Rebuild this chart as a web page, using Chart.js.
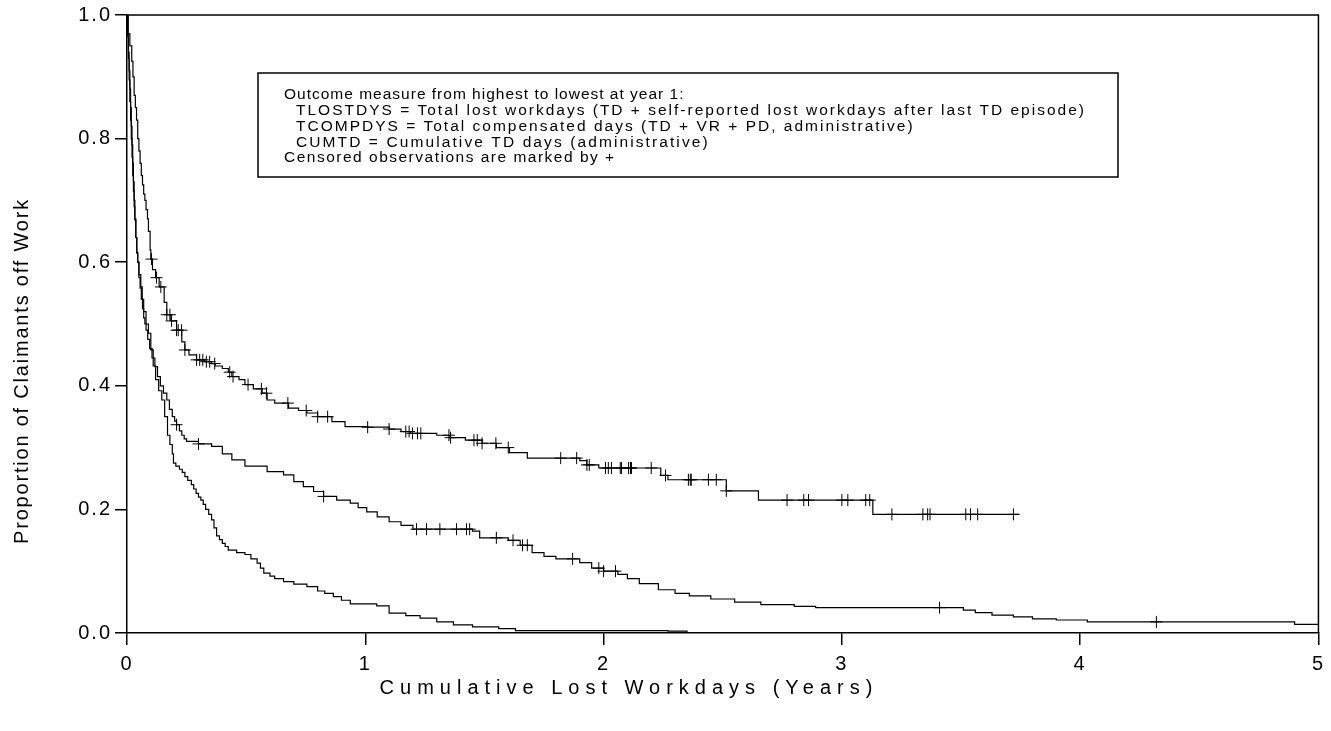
<!DOCTYPE html>
<html>
<head>
<meta charset="utf-8">
<script src="https://cdn.jsdelivr.net/npm/chart.js@4.4.1/dist/chart.umd.min.js"></script>
<style>
  body { margin: 0; background: #fff; }
  #wrap { width: 1331px; height: 731px; }
</style>
</head>
<body>
<div id="wrap"><canvas id="kmChart" width="1331" height="731"></canvas></div>
<script>
// time in years / proportion still off work (step curves)
const tlostT = [0, 0.005, 0.012, 0.02, 0.025, 0.03, 0.035, 0.04, 0.045, 0.05, 0.055, 0.06, 0.065, 0.07, 0.075, 0.08, 0.086, 0.09, 0.097, 0.10, 0.107, 0.12, 0.135, 0.156, 0.167, 0.184, 0.208, 0.23, 0.243, 0.26, 0.292, 0.327, 0.355, 0.37, 0.40, 0.425, 0.44, 0.47, 0.495, 0.53, 0.567, 0.588, 0.62, 0.678, 0.72, 0.755, 0.80, 0.86, 0.915, 1.01, 1.10, 1.15, 1.19, 1.30, 1.355, 1.42, 1.49, 1.55, 1.605, 1.68, 1.90, 1.93, 1.98, 2.24, 2.27, 2.515, 2.65, 3.13, 3.745];
const tlostS = [1.0, 0.97, 0.95, 0.925, 0.90, 0.87, 0.85, 0.83, 0.80, 0.78, 0.76, 0.74, 0.725, 0.71, 0.70, 0.685, 0.67, 0.65, 0.62, 0.605, 0.588, 0.575, 0.56, 0.535, 0.515, 0.505, 0.49, 0.471, 0.458, 0.45, 0.442, 0.439, 0.436, 0.432, 0.428, 0.422, 0.415, 0.41, 0.402, 0.395, 0.388, 0.377, 0.372, 0.364, 0.36, 0.356, 0.35, 0.342, 0.334, 0.333, 0.33, 0.326, 0.323, 0.32, 0.316, 0.312, 0.307, 0.30, 0.292, 0.283, 0.279, 0.272, 0.267, 0.255, 0.248, 0.23, 0.215, 0.192, 0.192];
const tlostCens = [0.103, 0.124, 0.142, 0.167, 0.18, 0.187, 0.208, 0.215, 0.229, 0.243, 0.292, 0.305, 0.318, 0.333, 0.347, 0.368, 0.431, 0.445, 0.508, 0.564, 0.585, 0.675, 0.752, 0.80, 0.842, 1.01, 1.10, 1.17, 1.184, 1.198, 1.219, 1.233, 1.351, 1.358, 1.456, 1.47, 1.49, 1.548, 1.60, 1.82, 1.887, 1.93, 1.94, 2.008, 2.02, 2.033, 2.07, 2.075, 2.105, 2.113, 2.117, 2.20, 2.26, 2.356, 2.364, 2.368, 2.44, 2.473, 2.515, 2.77, 2.84, 2.86, 3.0, 3.025, 3.10, 3.117, 3.21, 3.34, 3.36, 3.37, 3.52, 3.54, 3.57, 3.72];

const tcompT = [0, 0.003, 0.006, 0.009, 0.012, 0.015, 0.018, 0.021, 0.024, 0.027, 0.03, 0.033, 0.037, 0.041, 0.045, 0.05, 0.055, 0.06, 0.065, 0.07, 0.075, 0.08, 0.087, 0.095, 0.105, 0.117, 0.128, 0.14, 0.153, 0.167, 0.178, 0.19, 0.2, 0.208, 0.22, 0.23, 0.24, 0.25, 0.30, 0.355, 0.40, 0.44, 0.495, 0.588, 0.657, 0.70, 0.74, 0.783, 0.825, 0.88, 0.937, 0.97, 1.006, 1.05, 1.10, 1.15, 1.20, 1.45, 1.48, 1.60, 1.65, 1.70, 1.75, 1.80, 1.90, 1.95, 2.00, 2.06, 2.10, 2.15, 2.23, 2.30, 2.36, 2.45, 2.55, 2.66, 2.80, 2.89, 3.51, 3.56, 3.63, 3.72, 3.80, 3.90, 4.03, 4.90, 5.0];
const tcompS = [1.0, 0.97, 0.94, 0.91, 0.88, 0.85, 0.82, 0.79, 0.76, 0.73, 0.70, 0.67, 0.64, 0.615, 0.60, 0.575, 0.558, 0.54, 0.525, 0.51, 0.50, 0.49, 0.475, 0.46, 0.445, 0.431, 0.415, 0.40, 0.388, 0.377, 0.362, 0.35, 0.343, 0.337, 0.327, 0.32, 0.314, 0.31, 0.306, 0.302, 0.29, 0.28, 0.27, 0.261, 0.256, 0.245, 0.237, 0.229, 0.221, 0.215, 0.21, 0.203, 0.196, 0.188, 0.18, 0.174, 0.168, 0.165, 0.154, 0.15, 0.142, 0.13, 0.124, 0.12, 0.114, 0.105, 0.10, 0.095, 0.088, 0.08, 0.07, 0.064, 0.06, 0.055, 0.05, 0.046, 0.043, 0.041, 0.037, 0.033, 0.029, 0.026, 0.023, 0.021, 0.018, 0.014, 0.014];
const tcompCens = [0.208, 0.30, 0.825, 1.215, 1.257, 1.313, 1.383, 1.425, 1.438, 1.55, 1.62, 1.66, 1.68, 1.87, 1.98, 2.0, 2.05, 3.41, 4.32];

const cumtdT = [0, 0.003, 0.006, 0.009, 0.012, 0.015, 0.018, 0.021, 0.024, 0.027, 0.03, 0.033, 0.037, 0.041, 0.045, 0.05, 0.058, 0.064, 0.07, 0.08, 0.09, 0.10, 0.11, 0.12, 0.133, 0.146, 0.158, 0.17, 0.18, 0.19, 0.195, 0.205, 0.22, 0.232, 0.243, 0.255, 0.27, 0.28, 0.29, 0.30, 0.31, 0.32, 0.33, 0.343, 0.355, 0.365, 0.376, 0.388, 0.40, 0.412, 0.425, 0.46, 0.495, 0.52, 0.546, 0.56, 0.574, 0.60, 0.62, 0.657, 0.70, 0.755, 0.80, 0.83, 0.866, 0.90, 0.937, 1.048, 1.10, 1.17, 1.23, 1.30, 1.37, 1.45, 1.56, 1.63, 2.27, 2.35];
const cumtdS = [1.0, 0.965, 0.93, 0.895, 0.86, 0.83, 0.80, 0.77, 0.74, 0.715, 0.69, 0.668, 0.64, 0.615, 0.60, 0.58, 0.56, 0.54, 0.52, 0.50, 0.485, 0.458, 0.432, 0.41, 0.392, 0.377, 0.35, 0.32, 0.305, 0.29, 0.275, 0.27, 0.265, 0.26, 0.253, 0.247, 0.24, 0.233, 0.226, 0.22, 0.215, 0.208, 0.20, 0.192, 0.183, 0.17, 0.157, 0.151, 0.145, 0.14, 0.134, 0.13, 0.127, 0.12, 0.113, 0.105, 0.097, 0.092, 0.088, 0.083, 0.079, 0.075, 0.068, 0.064, 0.059, 0.053, 0.047, 0.044, 0.032, 0.028, 0.024, 0.018, 0.013, 0.01, 0.007, 0.004, 0.003, 0.0];

const xTicks = [0, 1, 2, 3, 4, 5];
const yTicks = [0, 0.2, 0.4, 0.6, 0.8, 1.0];

const xTitle = "Cumulative Lost Workdays (Years)";
const yTitle = "Proportion of Claimants off Work";
const boxLines = [
    "Outcome measure from highest to lowest at year 1:",
    "  TLOSTDYS = Total lost workdays (TD + self-reported lost workdays after last TD episode)",
    "  TCOMPDYS = Total compensated days (TD + VR + PD, administrative)",
    "  CUMTD = Cumulative TD days (administrative)",
    "Censored observations are marked by +"
];

const FONT = "Arial, 'Liberation Sans', sans-serif";
// per-line letter spacing for the note box (px)
const boxSpacing = [1.0, 2.0, 2.0, 2.1, 1.5];

function toPoints(ts, ss) {
    return ts.map((t, i) => ({ x: t, y: ss[i] }));
}

// value of the step curve at time t
function survAt(ts, ss, t) {
    let v = ss[0];
    for (let i = 0; i < ts.length; i++) {
        if (ts[i] <= t) v = ss[i];
    }
    return v;
}

function censPoints(ts, ss, cens) {
    return cens.map(t => ({ x: t, y: survAt(ts, ss, t) }));
}

function curve(label, ts, ss) {
    return {
        label,
        data: toPoints(ts, ss),
        borderColor: "#000",
        borderWidth: 1.2,
        stepped: true,
        pointRadius: 0,
        fill: false
    };
}

function marks(label, ts, ss, cens) {
    return {
        label,
        data: censPoints(ts, ss, cens),
        showLine: false,
        pointStyle: "cross",
        pointRadius: 6,
        borderColor: "#000",
        borderWidth: 1
    };
}

const frameAndText = {
    id: "frameAndText",
    beforeDraw(c) {
        c.ctx.letterSpacing = "2px";
    },
    afterDraw(c) {
        const ctx = c.ctx, a = c.chartArea;
        ctx.save();
        // top and right frame
        ctx.strokeStyle = "#000";
        ctx.lineWidth = 1.5;
        ctx.beginPath();
        ctx.moveTo(a.left, a.top);
        ctx.lineTo(a.right, a.top);
        ctx.lineTo(a.right, a.bottom);
        ctx.stroke();

        // note box
        ctx.strokeRect(258, 73, 860, 104);
        ctx.fillStyle = "#000";
        ctx.font = "15.5px " + FONT;
        ctx.textBaseline = "middle";
        ctx.textAlign = "left";
        boxLines.forEach((line, i) => {
            const indent = line.startsWith("  ") ? 12 : 0;
            ctx.letterSpacing = boxSpacing[i] + "px";
            ctx.fillText(line.trim(), 284 + indent, 95 + i * 15.8);
        });

        // axis titles
        ctx.font = "20px " + FONT;
        ctx.letterSpacing = "6px";
        ctx.textAlign = "center";
        ctx.fillText(xTitle, 629, 688);

        ctx.font = "20px " + FONT;
        ctx.letterSpacing = "1.8px";
        ctx.translate(22, 371);
        ctx.rotate(-Math.PI / 2);
        ctx.fillText(yTitle, 0, 0);
        ctx.restore();
    }
};

const ctx = document.getElementById("kmChart");
const chart = new Chart(ctx, {
    type: "line",
    data: {
        datasets: [
            curve("TLOSTDYS", tlostT, tlostS),
            curve("TCOMPDYS", tcompT, tcompS),
            curve("CUMTD", cumtdT, cumtdS),
            marks("TLOSTDYS censored", tlostT, tlostS, tlostCens),
            marks("TCOMPDYS censored", tcompT, tcompS, tcompCens)
        ]
    },
    options: {
        responsive: false,
        animation: false,
        events: [],
        layout: { padding: { top: 15, right: 10, left: 0, bottom: 0 } },
        plugins: { legend: { display: false }, tooltip: { enabled: false } },
        scales: {
            x: {
                type: "linear",
                min: 0,
                max: 5,
                afterFit: s => { s.height = 98; },
                afterBuildTicks: s => { s.ticks = xTicks.map(v => ({ value: v })); },
                ticks: {
                    color: "#000",
                    padding: 7,
                    font: { size: 20, family: FONT },
                    callback: v => String(v)
                },
                grid: { drawOnChartArea: false, drawTicks: true, tickLength: 12, color: "#000", lineWidth: 1.5 },
                border: { display: true, color: "#000", width: 1.5 }
            },
            y: {
                min: 0,
                max: 1,
                afterFit: s => { s.width = 127; },
                afterBuildTicks: s => { s.ticks = yTicks.map(v => ({ value: v })); },
                ticks: {
                    color: "#000",
                    padding: 3,
                    font: { size: 20, family: FONT },
                    callback: v => v.toFixed(1)
                },
                grid: { drawOnChartArea: false, drawTicks: true, tickLength: 12, color: "#000", lineWidth: 1.5 },
                border: { display: true, color: "#000", width: 1.5 }
            }
        }
    },
    plugins: [frameAndText]
});
</script>
</body>
</html>
